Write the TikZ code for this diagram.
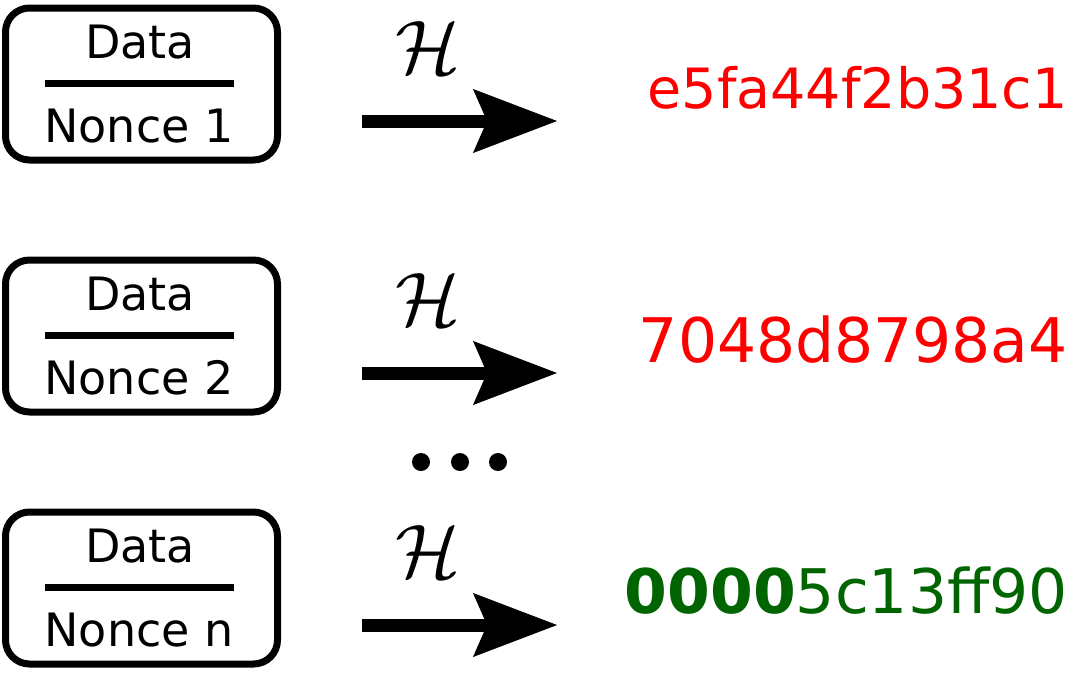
\documentclass[tikz,border=0pt]{standalone}
\usepackage{fontspec}
\setmainfont{DejaVu Sans}
\usetikzlibrary{arrows.meta, positioning}

\definecolor{hashred}{RGB}{255,0,0}
\definecolor{hashgreen}{RGB}{0,100,0}

\tikzset{
  msgbox/.style={draw, line width=7pt, rounded corners=24pt,
                 minimum width=272pt, minimum height=152pt, inner sep=0pt},
  fieldtext/.style={anchor=base, inner sep=0pt, font=\fontsize{46}{50}\selectfont},
  hasharrow/.style={line width=13pt,
                    -{Stealth[length=84pt, width=64pt, inset=14pt, line width=1pt]}},
  hashtext/.style={anchor=base east, inner sep=0pt},
}

\begin{document}
\begin{tikzpicture}[x=1pt, y=-1pt]

  \useasboundingbox (0,0) rectangle (1068,672);

  % one row per nonce: box, separator, hash arrow
  \foreach \i/\o in {1/0, 2/252, n/504} {
    \node[msgbox] (box\i) at (141.5,84+\o) {};
    \node[fieldtext] (data\i) at (140,58+\o) {Data};
    \node[fieldtext] (nonce\i) at (139,142+\o) {Nonce \i};
    \coordinate (sepl\i) at (45,83+\o);
    \coordinate (sepr\i) at (234,83+\o);
    \draw[line width=7pt] (sepl\i) -- (sepr\i);
    \coordinate (arrs\i) at (362,121+\o);
    \coordinate (arre\i) at (557,121+\o);
    \draw[hasharrow] (arrs\i) -- (arre\i);
    \node[scale=7.6, inner sep=0pt] (H\i) at (428,48+\o) {$\mathcal{H}$};
  }

  % resulting hashes
  \node[hashtext, text=hashred, font=\fontsize{55.5}{60}\selectfont] (hash1) at (1068,108) {e5fa44f2b31c1};
  \node[hashtext, text=hashred, font=\fontsize{61.5}{66}\selectfont] (hash2) at (1068,362) {7048d8798a4};
  \node[hashtext, text=hashgreen, font=\fontsize{61.5}{66}\selectfont] (hashn) at (1068,613) {\textbf{0000}5c13ff90};

  % ellipsis between rows
  \foreach \x in {421,460,498}
    \fill (\x,462) circle (9pt);

\end{tikzpicture}
\end{document}
